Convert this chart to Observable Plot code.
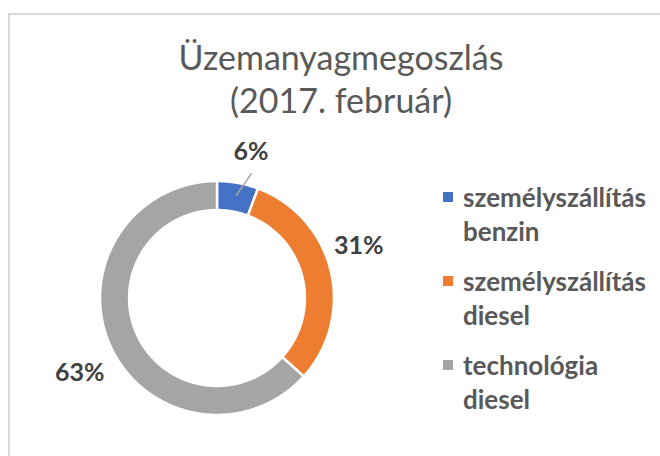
<!DOCTYPE html>
<html><head><meta charset="utf-8">
<script src="https://cdn.jsdelivr.net/npm/d3@7"></script>
<script src="https://cdn.jsdelivr.net/npm/@observablehq/plot@0.6"></script>
<style>
body{margin:0;background:#fff;overflow:hidden}
#wrap{position:relative;width:660px;height:456px;overflow:hidden;font-family:Lato,"Open Sans",sans-serif}
#frame{position:absolute;left:8px;top:13px;width:700px;height:500px;border:2px solid #d9d9d9;box-sizing:border-box}
#chart{position:absolute;left:0;top:0}
#title{position:absolute;left:0;width:682px;top:35px;text-align:center;color:#595959;font-size:34px;line-height:43px}
#legend{position:absolute;left:443px;top:180px}
.item{position:relative;height:84px}
.sw{position:absolute;left:0;top:12px;width:10px;height:10px}
.lab{position:absolute;left:20px;top:0;font-weight:bold;color:#595959;font-size:26px;line-height:34px;white-space:nowrap}
</style></head>
<body><div id="wrap"><div id="frame"></div><div id="chart"></div><div id="title"></div><div id="legend"></div></div>
<script>
const titleLines = ["Üzemanyagmegoszlás", "(2017. február)"];
const categories = ["személyszállítás benzin", "személyszállítás diesel", "technológia diesel"];
const legendLines = [["személyszállítás", "benzin"], ["személyszállítás", "diesel"], ["technológia", "diesel"]];
const values = [5.7, 31.0, 63.3];
const colors = ["#4472c4", "#ed7d31", "#a5a5a5"];

// layout
const cx = 217, cy = 298, R = 116;
const rOuter = 1.008, rInner = 0.758;
const total = d3.sum(values);
const toRad = Math.PI / 180;

const ringPts = [];
const labels = [];
const leaders = [];
let cum = 0;
values.forEach((v, i) => {
  const a0 = cum / total * 360, a1 = (cum + v) / total * 360;
  cum += v;
  const n = Math.max(2, Math.ceil((a1 - a0) / 0.5));
  for (let k = 0; k <= n; k++) {
    const a = (a0 + (a1 - a0) * k / n) * toRad;
    ringPts.push({name: categories[i], xi: rInner * Math.sin(a), yi: rInner * Math.cos(a), xo: rOuter * Math.sin(a), yo: rOuter * Math.cos(a)});
  }
  const mid = (a0 + a1) / 2 * toRad;
  const lr = 1.28;
  labels.push({name: categories[i], text: Math.round(v / total * 100) + "%", x: lr * Math.sin(mid), y: lr * Math.cos(mid), i});
  if (v / total < 0.1) {
    const m2 = mid + 5 * toRad;
    leaders.push({x1: 0.9 * Math.sin(mid), y1: 0.9 * Math.cos(mid), x2: 1.12 * Math.sin(m2), y2: 1.12 * Math.cos(m2)});
  }
});
// small nudges (pixels) to mimic best-fit placement
const nudge = [[7, 0], [-3, -17], [-2, 14]];
labels.forEach(d => { d.x += nudge[d.i][0] / R; d.y -= nudge[d.i][1] / R; });

const plot = Plot.plot({
  width: 660, height: 456, margin: 0,
  x: {domain: [-1, 1], range: [cx - R, cx + R], axis: null},
  y: {domain: [-1, 1], range: [cy + R, cy - R], axis: null},
  color: {domain: categories, range: colors},
  style: {background: "transparent"},
  marks: [
    Plot.area(ringPts, {x1: "xi", y1: "yi", x2: "xo", y2: "yo", z: "name", fill: "name", stroke: "white", strokeWidth: 2.5}),
    Plot.link(leaders, {x1: "x1", y1: "y1", x2: "x2", y2: "y2", stroke: "#a6a6a6", strokeWidth: 1.5}),
    Plot.text(labels, {x: "x", y: "y", text: "text", fill: "#404040", fontSize: 25, fontWeight: "bold", fontFamily: "Lato, 'Open Sans', sans-serif"})
  ]
});
document.getElementById("chart").appendChild(plot);

document.getElementById("title").innerHTML = titleLines.join("<br>");
const leg = document.getElementById("legend");
categories.forEach((c, i) => {
  const it = document.createElement("div"); it.className = "item";
  const sw = document.createElement("div"); sw.className = "sw"; sw.style.background = colors[i];
  const lb = document.createElement("div"); lb.className = "lab"; lb.innerHTML = legendLines[i].join("<br>");
  it.appendChild(sw); it.appendChild(lb); leg.appendChild(it);
});
</script>
</body></html>
